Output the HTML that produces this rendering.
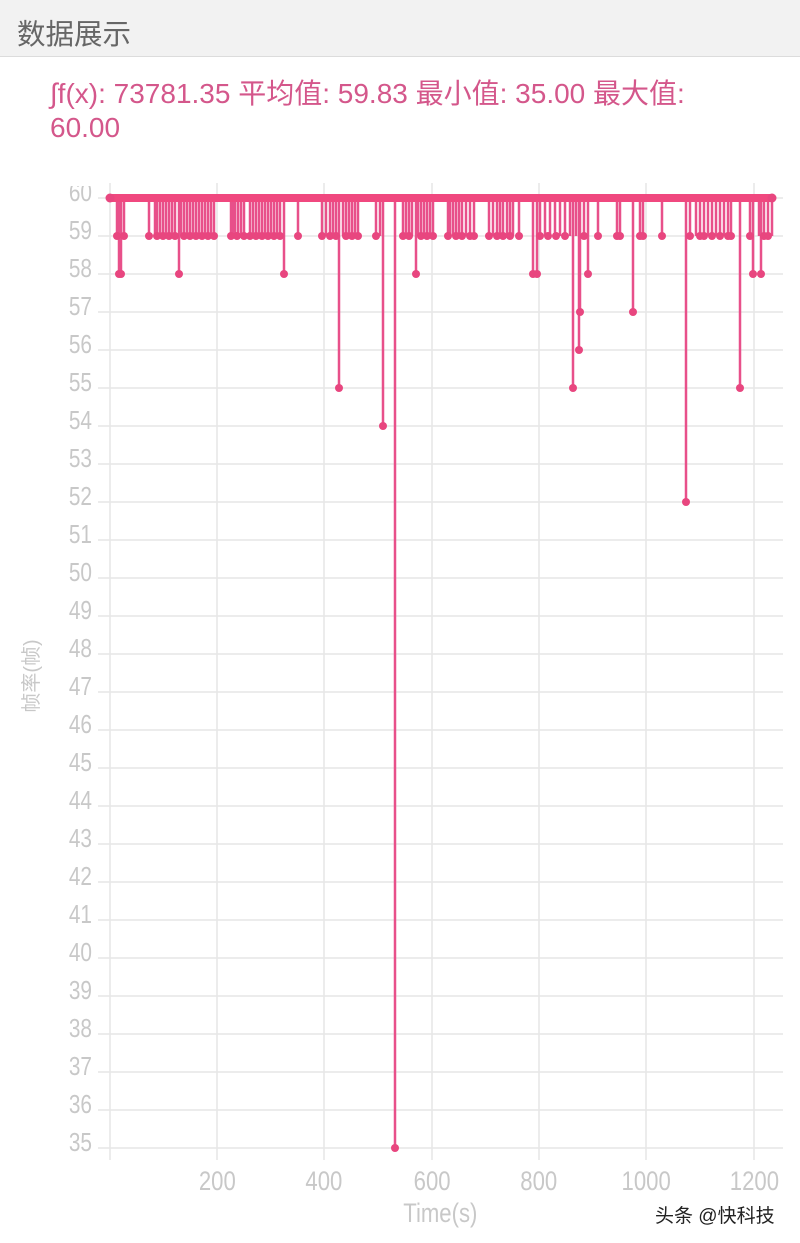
<!DOCTYPE html>
<html><head><meta charset="utf-8"><style>
body{margin:0;width:800px;height:1243px;background:#fff;overflow:hidden;font-family:"Liberation Sans","Noto Sans CJK SC",sans-serif}
.bar{position:absolute;left:0;top:0;width:800px;height:56px;background:#f2f2f2;border-bottom:1px solid #dcdcdc}
.bar span{position:absolute;left:17px;top:12px;font-size:28.5px;color:#666}
.stat{position:absolute;left:50px;top:77px;font-size:28px;line-height:34px;color:#d4578b;width:740px;white-space:nowrap}
</style></head><body>
<div class="bar"><span>数据展示</span></div>
<div class="stat">∫f(x): 73781.35 平均值: 59.83 最小值: 35.00 最大值:<br>60.00</div>
<svg width="800" height="1243" style="position:absolute;left:0;top:0" font-family="Liberation Sans, Noto Sans CJK SC, sans-serif">
<defs><clipPath id="c"><rect x="0" y="186" width="200" height="1000"/></clipPath></defs>
<g stroke="#e6e6e6" stroke-width="1.5">
<path d="M110 183V1160M217 183V1160M324 183V1160M432 183V1160M539 183V1160M646 183V1160M754 183V1160"/>
<path d="M98 198H783M98 236H783M98 274H783M98 312H783M98 350H783M98 388H783M98 426H783M98 464H783M98 502H783M98 540H783M98 578H783M98 616H783M98 654H783M98 692H783M98 730H783M98 768H783M98 806H783M98 844H783M98 882H783M98 920H783M98 958H783M98 996H783M98 1034H783M98 1072H783M98 1110H783M98 1148H783"/>
</g>
<g clip-path="url(#c)">
<g fill="#c8c8c8" font-size="26" text-anchor="end" transform="scale(0.8,1)">
<text x="115" y="201">60</text><text x="115" y="239">59</text><text x="115" y="277">58</text><text x="115" y="315">57</text><text x="115" y="353">56</text><text x="115" y="391">55</text><text x="115" y="429">54</text><text x="115" y="467">53</text><text x="115" y="505">52</text><text x="115" y="543">51</text><text x="115" y="581">50</text><text x="115" y="619">49</text><text x="115" y="657">48</text><text x="115" y="695">47</text><text x="115" y="733">46</text><text x="115" y="771">45</text><text x="115" y="809">44</text><text x="115" y="847">43</text><text x="115" y="885">42</text><text x="115" y="923">41</text><text x="115" y="961">40</text><text x="115" y="999">39</text><text x="115" y="1037">38</text><text x="115" y="1075">37</text><text x="115" y="1113">36</text><text x="115" y="1151">35</text>
</g></g>
<g fill="#c8c8c8" font-size="27" text-anchor="middle" transform="scale(0.82,1)">
<text x="265" y="1190">200</text><text x="395" y="1190">400</text><text x="527" y="1190">600</text><text x="657" y="1190">800</text><text x="788" y="1190">1000</text><text x="920" y="1190">1200</text>
<text x="537" y="1222">Time(s)</text>
</g>
<text transform="translate(38,676) rotate(-90)" font-size="20" fill="#c8c8c8" text-anchor="middle">帧率(帧)</text>
<text x="655" y="1222" font-size="19" fill="#222">头条 @快科技</text>
<g stroke="#e8508a" stroke-width="2.5" fill="none">
<path d="M117 198V236M119 198V274M121 198V274M124 198V236M149 198V236M155 198V236M157 198V236M160 198V236M163 198V236M166 198V236M169 198V236M172 198V236M175 198V236M179 198V274M181 198V236M184 198V236M187 198V236M190 198V236M193 198V236M196 198V236M199 198V236M202 198V236M205 198V236M208 198V236M211 198V236M214 198V236M231 198V236M233 198V236M235 198V236M238 198V236M241 198V236M244 198V236M250 198V236M253 198V236M256 198V236M259 198V236M262 198V236M265 198V236M268 198V236M271 198V236M274 198V236M277 198V236M280 198V236M284 198V274M298 198V236M322 198V236M326 198V236M330 198V236M333 198V236M336 198V236M339 198V388M343 198V236M346 198V236M349 198V236M352 198V236M355 198V236M358 198V236M376 198V236M380 198V236M383 198V426M395 198V1148M403 198V236M406 198V236M409 198V236M412 198V236M416 198V274M418 198V236M421 198V236M424 198V236M427 198V236M430 198V236M433 198V236M448 198V236M450 198V236M453 198V236M456 198V236M459 198V236M462 198V236M466 198V236M470 198V236M474 198V236M489 198V236M493 198V236M497 198V236M500 198V236M503 198V236M507 198V236M510 198V236M513 198V236M519 198V236M533 198V274M537 198V274M540 198V236M545 198V236M550 198V236M555 198V236M560 198V236M565 198V236M570 198V236M573 198V388M576 198V236M579 198V350M580 198V312M584 198V236M588 198V274M598 198V236M617 198V236M620 198V236M633 198V312M640 198V236M643 198V236M662 198V236M686 198V502M690 198V236M696 198V236M700 198V236M704 198V236M708 198V236M712 198V236M716 198V236M720 198V236M724 198V236M728 198V236M731 198V236M740 198V388M750 198V236M753 198V274M759 198V236M761 198V274M764 198V236M768 198V236M772 198V236"/>
</g>
<path d="M110 198H772" stroke="#f0487f" stroke-width="8" stroke-linecap="round"/>
<g fill="#e8467f">
<circle cx="117" cy="236" r="4"/><circle cx="119" cy="274" r="4"/><circle cx="121" cy="274" r="4"/><circle cx="124" cy="236" r="4"/><circle cx="149" cy="236" r="4"/><circle cx="157" cy="236" r="4"/><circle cx="163" cy="236" r="4"/><circle cx="169" cy="236" r="4"/><circle cx="175" cy="236" r="4"/><circle cx="179" cy="274" r="4"/><circle cx="184" cy="236" r="4"/><circle cx="190" cy="236" r="4"/><circle cx="196" cy="236" r="4"/><circle cx="202" cy="236" r="4"/><circle cx="208" cy="236" r="4"/><circle cx="214" cy="236" r="4"/><circle cx="231" cy="236" r="4"/><circle cx="237" cy="236" r="4"/><circle cx="244" cy="236" r="4"/><circle cx="250" cy="236" r="4"/><circle cx="256" cy="236" r="4"/><circle cx="262" cy="236" r="4"/><circle cx="268" cy="236" r="4"/><circle cx="274" cy="236" r="4"/><circle cx="280" cy="236" r="4"/><circle cx="284" cy="274" r="4"/><circle cx="298" cy="236" r="4"/><circle cx="322" cy="236" r="4"/><circle cx="330" cy="236" r="4"/><circle cx="336" cy="236" r="4"/><circle cx="339" cy="388" r="4"/><circle cx="346" cy="236" r="4"/><circle cx="352" cy="236" r="4"/><circle cx="358" cy="236" r="4"/><circle cx="376" cy="236" r="4"/><circle cx="383" cy="426" r="4"/><circle cx="395" cy="1148" r="4"/><circle cx="403" cy="236" r="4"/><circle cx="409" cy="236" r="4"/><circle cx="416" cy="274" r="4"/><circle cx="421" cy="236" r="4"/><circle cx="427" cy="236" r="4"/><circle cx="433" cy="236" r="4"/><circle cx="448" cy="236" r="4"/><circle cx="456" cy="236" r="4"/><circle cx="462" cy="236" r="4"/><circle cx="470" cy="236" r="4"/><circle cx="474" cy="236" r="4"/><circle cx="489" cy="236" r="4"/><circle cx="497" cy="236" r="4"/><circle cx="503" cy="236" r="4"/><circle cx="510" cy="236" r="4"/><circle cx="519" cy="236" r="4"/><circle cx="533" cy="274" r="4"/><circle cx="537" cy="274" r="4"/><circle cx="540" cy="236" r="4"/><circle cx="548" cy="236" r="4"/><circle cx="556" cy="236" r="4"/><circle cx="565" cy="236" r="4"/><circle cx="573" cy="388" r="4"/><circle cx="579" cy="350" r="4"/><circle cx="580" cy="312" r="4"/><circle cx="584" cy="236" r="4"/><circle cx="588" cy="274" r="4"/><circle cx="598" cy="236" r="4"/><circle cx="617" cy="236" r="4"/><circle cx="620" cy="236" r="4"/><circle cx="633" cy="312" r="4"/><circle cx="640" cy="236" r="4"/><circle cx="643" cy="236" r="4"/><circle cx="662" cy="236" r="4"/><circle cx="686" cy="502" r="4"/><circle cx="690" cy="236" r="4"/><circle cx="700" cy="236" r="4"/><circle cx="704" cy="236" r="4"/><circle cx="712" cy="236" r="4"/><circle cx="720" cy="236" r="4"/><circle cx="728" cy="236" r="4"/><circle cx="731" cy="236" r="4"/><circle cx="740" cy="388" r="4"/><circle cx="750" cy="236" r="4"/><circle cx="753" cy="274" r="4"/><circle cx="761" cy="274" r="4"/><circle cx="764" cy="236" r="4"/><circle cx="768" cy="236" r="4"/>
<circle cx="110" cy="198" r="4.5"/><circle cx="772" cy="198" r="4.5"/>
</g>
</svg>
</body></html>
